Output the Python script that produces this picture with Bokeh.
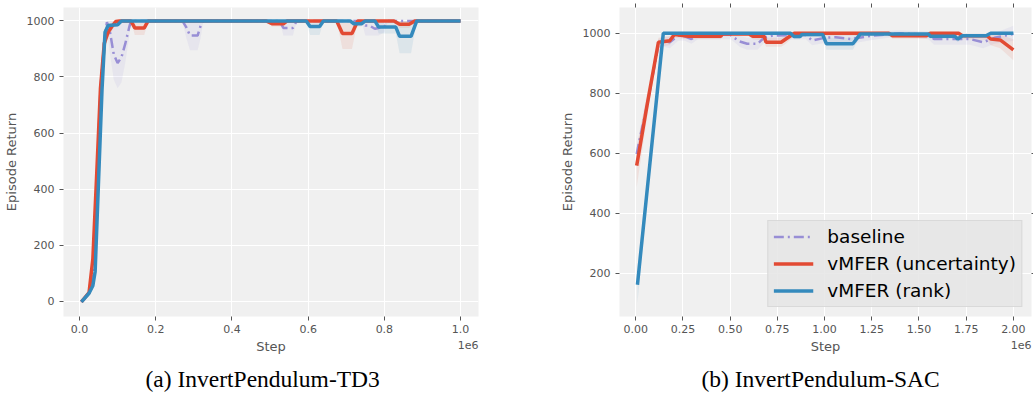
from bokeh.plotting import figure
from bokeh.models import (FixedTicker, PrintfTickFormatter, LinearAxis, Range1d,
                          Title, Legend, LegendItem, CustomJSTickFormatter)
from bokeh.layouts import row
from bokeh.embed import file_html
from bokeh.resources import INLINE

RED = "#E24A33"
BLUE = "#348ABD"
PURPLE = "#988ED5"
GREY = "#555555"

# ---------------- (a) InvertPendulum-TD3  (step in units of 1e6) ----------------
td3_base_x = [0.005, 0.025, 0.035, 0.045, 0.055, 0.065, 0.072, 0.08, 0.09, 0.1,
              0.11, 0.12, 0.13, 0.135, 0.27, 0.28, 0.29, 0.31, 0.318, 0.325,
              0.525, 0.535, 0.56, 0.57, 0.74, 0.75, 0.76, 0.775, 0.785, 0.8, 0.81, 1.0]
td3_base_y = [-3, 30, 100, 420, 760, 930, 996, 960, 880, 850,
              870, 918, 975, 1000, 1000, 978, 948, 948, 984, 1000,
              1000, 975, 975, 1000, 1000, 984, 984, 972, 975, 980, 1000, 1000]
td3_base_lo = [-8, 20, 80, 380, 720, 900, 975, 880, 790, 760,
               780, 850, 940, 1000, 1000, 940, 895, 895, 940, 1000,
               1000, 948, 948, 1000, 1000, 948, 948, 948, 948, 960, 1000, 1000]
td3_base_hi = [2, 40, 120, 460, 800, 960, 1000, 1000, 1000, 1000,
               1000, 1000, 1000, 1000, 1000, 1000, 1000, 1000, 1000, 1000,
               1000, 1000, 1000, 1000, 1000, 1000, 1000, 1000, 1000, 1000, 1000, 1000]

td3_unc_x = [0.005, 0.025, 0.035, 0.045, 0.055, 0.065, 0.075, 0.085, 0.095, 0.105,
             0.135, 0.145, 0.17, 0.18, 0.49, 0.505, 0.535, 0.545, 0.675, 0.69,
             0.715, 0.73, 0.825, 0.84, 0.865, 0.88, 1.0]
td3_unc_y = [-3, 30, 150, 450, 760, 920, 960, 980, 998, 1000,
             1000, 975, 975, 1000, 1000, 990, 990, 1000, 1000, 955,
             955, 1000, 1000, 988, 988, 1000, 1000]
td3_unc_lo = [-8, 20, 110, 400, 720, 890, 940, 965, 990, 1000,
              1000, 950, 950, 1000, 1000, 980, 980, 1000, 1000, 900,
              900, 1000, 1000, 975, 975, 1000, 1000]
td3_unc_hi = [2, 40, 190, 500, 800, 950, 980, 995, 1000, 1000,
              1000, 1000, 1000, 1000, 1000, 1000, 1000, 1000, 1000, 1000,
              1000, 1000, 1000, 1000, 1000, 1000, 1000]

td3_rank_x = [0.005, 0.025, 0.035, 0.041, 0.05, 0.059, 0.067, 0.075, 0.1, 0.11,
              0.595, 0.605, 0.63, 0.64, 0.71, 0.72, 0.74, 0.75, 0.775, 0.785,
              0.83, 0.84, 0.87, 0.885, 1.0]
td3_rank_y = [-3, 28, 55, 105, 430, 752, 960, 984, 986, 1000,
              1000, 980, 980, 1000, 1000, 990, 990, 1000, 1000, 978,
              978, 945, 945, 1000, 1000]
td3_rank_lo = [-8, 20, 45, 90, 400, 720, 940, 975, 980, 1000,
               1000, 950, 950, 1000, 1000, 980, 980, 1000, 1000, 955,
               955, 885, 885, 1000, 1000]
td3_rank_hi = [2, 36, 65, 120, 460, 785, 975, 992, 992, 1000,
               1000, 1000, 1000, 1000, 1000, 1000, 1000, 1000, 1000, 1000,
               1000, 1000, 1000, 1000, 1000]

# ---------------- (b) InvertPendulum-SAC ----------------
sac_base_x = [0.005, 0.023, 0.06, 0.12, 0.15, 0.18, 0.225, 0.26, 0.295, 0.33,
              0.5, 0.513, 0.55, 0.59, 0.645, 0.68, 0.72, 0.9, 0.934, 1.0,
              1.06, 1.14, 1.25, 1.4, 1.55, 1.58, 1.66, 1.77, 1.84, 1.9, 2.0]
sac_base_y = [598, 653, 760, 960, 975, 970, 992, 990, 981, 995,
              995, 989, 973, 965, 965, 985, 992, 995, 976, 985,
              987, 981, 992, 1000, 995, 981, 981, 981, 970, 985, 998]
sac_base_lo = [570, 625, 730, 940, 955, 950, 975, 975, 965, 980,
               980, 975, 955, 945, 945, 968, 978, 980, 960, 968,
               970, 965, 978, 990, 980, 962, 962, 962, 950, 965, 975]
sac_base_hi = [625, 680, 790, 980, 990, 990, 1005, 1005, 995, 1005,
               1005, 1000, 990, 985, 985, 1000, 1005, 1005, 990, 1000,
               1000, 995, 1005, 1010, 1005, 995, 995, 995, 985, 1000, 1025]

sac_unc_x = [0.005, 0.06, 0.12, 0.18, 0.205, 0.28, 0.45, 0.46, 0.6, 0.62,
             0.68, 0.69, 0.77, 0.795, 0.84, 1.34, 1.36, 1.54, 1.56, 1.71,
             1.73, 1.86, 1.88, 1.93, 2.0]
sac_unc_y = [559, 760, 970, 975, 996, 990, 990, 998, 998, 990,
             990, 970, 970, 981, 1000, 1000, 992, 992, 1000, 1000,
             992, 992, 981, 978, 945]
sac_unc_lo = [487, 720, 955, 960, 985, 980, 980, 990, 990, 980,
              975, 955, 955, 965, 992, 992, 982, 982, 992, 992,
              980, 978, 960, 950, 910]
sac_unc_hi = [620, 800, 985, 990, 1005, 1000, 1000, 1005, 1005, 1000,
              1000, 985, 985, 995, 1005, 1005, 1000, 1000, 1005, 1005,
              1000, 1000, 995, 995, 980]

sac_rank_x = [0.009, 0.146, 0.82, 0.838, 0.87, 0.88, 0.99, 1.01, 1.15, 1.19,
              1.55, 1.56, 1.69, 1.705, 1.73, 1.855, 1.88, 2.0]
sac_rank_y = [162, 1000, 1000, 989, 989, 996, 996, 965, 965, 998,
              998, 990, 990, 981, 992, 992, 1000, 1000]
sac_rank_lo = [100, 995, 995, 980, 980, 988, 988, 945, 945, 990,
               990, 982, 982, 970, 984, 984, 995, 995]
sac_rank_hi = [220, 1005, 1005, 998, 998, 1002, 1002, 985, 985, 1005,
               1005, 998, 998, 990, 1000, 1000, 1005, 1005]

td3_xticks = [0.0, 0.2, 0.4, 0.6, 0.8, 1.0]
td3_yticks = [0, 200, 400, 600, 800, 1000]
sac_xticks = [0.0, 0.25, 0.5, 0.75, 1.0, 1.25, 1.5, 1.75, 2.0]
sac_yticks = [200, 400, 600, 800, 1000]

series_labels = ["baseline", "vMFER (uncertainty)", "vMFER (rank)"]
captions = ["(a) InvertPendulum-TD3", "(b) InvertPendulum-SAC"]


def style_axis(ax):
    ax.axis_line_color = None
    ax.major_tick_line_color = GREY
    ax.major_tick_out = 4
    ax.major_tick_in = 0
    ax.minor_tick_line_color = None
    ax.major_label_text_font = "DejaVu Sans"
    ax.major_label_text_font_size = "11px"
    ax.major_label_text_color = GREY
    ax.axis_label_text_font = "DejaVu Sans"
    ax.axis_label_text_font_size = "13px"
    ax.axis_label_text_font_style = "normal"
    ax.axis_label_text_color = GREY


def make_fig(xr, yr, xticks, yticks, xfmt, fw, mbl, mbr, caption):
    p = figure(frame_width=fw, frame_height=309,
               x_range=Range1d(*xr), y_range=Range1d(*yr),
               output_backend="svg", toolbar_location=None,
               min_border_left=mbl, min_border_right=mbr,
               min_border_top=7, min_border_bottom=77,
               background_fill_color="#F0F0F0", border_fill_color="white",
               outline_line_color=None)
    p.xaxis.ticker = FixedTicker(ticks=xticks)
    p.yaxis.ticker = FixedTicker(ticks=yticks)
    p.xaxis.formatter = PrintfTickFormatter(format=xfmt)
    p.xaxis.axis_label = "Step"
    p.yaxis.axis_label = "Episode Return"
    for ax in (p.xaxis[0], p.yaxis[0]):
        style_axis(ax)
    p.xaxis.major_label_standoff = 4
    p.xaxis.axis_label_standoff = 3
    p.yaxis.major_label_standoff = 5
    p.yaxis.axis_label_standoff = 5
    p.xgrid.ticker = FixedTicker(ticks=xticks)
    p.ygrid.ticker = FixedTicker(ticks=yticks)
    for g in (p.xgrid[0], p.ygrid[0]):
        g.grid_line_color = "white"
        g.grid_line_width = 1
    p.add_layout(Title(text="1e6", align="right", vertical_align="top",
                       text_font="DejaVu Sans", text_font_size="11px",
                       text_font_style="normal", text_color=GREY,
                       standoff=-32), "below")
    p.add_layout(Title(text=caption, align="left", offset=82, vertical_align="top",
                       text_font="Liberation Serif", text_font_size="23.5px",
                       text_font_style="normal", text_color="black",
                       standoff=18), "below")
    return p


def draw(p, data):
    rends = []
    for (x, y, lo, hi, color, dash, w) in data:
        p.varea(x=x, y1=lo, y2=hi, fill_color=color, fill_alpha=0.1)
    for (x, y, lo, hi, color, dash, w) in data:
        r = p.line(x, y, line_color=color, line_width=w, line_dash=dash)
        rends.append(r)
    return rends


p1 = make_fig((-0.042, 1.047), (-55, 1048), td3_xticks, td3_yticks, "%.1f",
              415, 57, 78, captions[0])
draw(p1, [
    (td3_base_x, td3_base_y, td3_base_lo, td3_base_hi, PURPLE, "10 4 2 4", 2.5),
    (td3_unc_x, td3_unc_y, td3_unc_lo, td3_unc_hi, RED, "solid", 3.5),
    (td3_rank_x, td3_rank_y, td3_rank_lo, td3_rank_hi, BLUE, "solid", 3.5),
])

p2 = make_fig((-0.086, 2.096), (56, 1086), sac_xticks, sac_yticks, "%.2f",
              412, 58, 4, captions[1])
r2 = draw(p2, [
    (sac_base_x, sac_base_y, sac_base_lo, sac_base_hi, PURPLE, "10 4 2 4", 2.5),
    (sac_unc_x, sac_unc_y, sac_unc_lo, sac_unc_hi, RED, "solid", 3.5),
    (sac_rank_x, sac_rank_y, sac_rank_lo, sac_rank_hi, BLUE, "solid", 3.5),
])

blank = CustomJSTickFormatter(code="return ''")
top_ax = LinearAxis(ticker=FixedTicker(ticks=sac_xticks), formatter=blank)
right_ax = LinearAxis(ticker=FixedTicker(ticks=sac_yticks), formatter=blank)
for ax in (top_ax, right_ax):
    style_axis(ax)
    ax.major_label_text_font_size = "0px"
    ax.major_label_standoff = 0
p2.add_layout(top_ax, "above")
p2.add_layout(right_ax, "right")

legend = Legend(items=[LegendItem(label=series_labels[i], renderers=[r2[i]]) for i in range(3)],
                location="bottom_right")
legend.background_fill_color = "#E5E5E5"
legend.background_fill_alpha = 0.85
legend.border_line_color = "#CCCCCC"
legend.border_line_width = 1
legend.label_text_font = "DejaVu Sans"
legend.label_text_font_size = "18.5px"
legend.label_text_color = "black"
legend.glyph_width = 40
legend.glyph_height = 21
legend.label_height = 21
legend.spacing = 6
legend.padding = 5
legend.margin = 9
legend.label_standoff = 14
p2.add_layout(legend, "center")

layout = row(p1, p2)
open("out.html", "w").write(file_html(layout, INLINE))
